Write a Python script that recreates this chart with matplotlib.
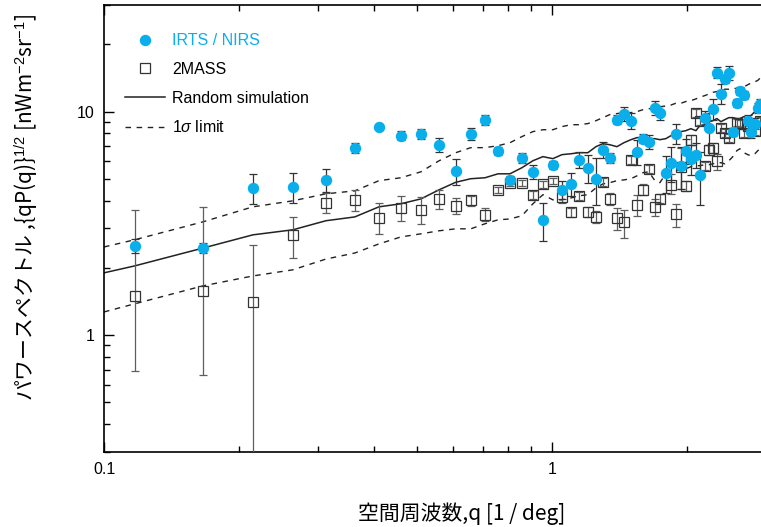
import matplotlib
matplotlib.use("Agg")
import matplotlib.pyplot as plt
from matplotlib.lines import Line2D
from matplotlib.ticker import LogLocator, NullFormatter, FixedLocator, FixedFormatter

plt.rcParams['font.family'] = ['Liberation Sans', 'Noto Sans CJK JP', 'DejaVu Sans']
plt.rcParams['mathtext.fontset'] = 'custom'
plt.rcParams['mathtext.rm'] = 'Liberation Sans'
plt.rcParams['mathtext.it'] = 'Liberation Sans:italic'

# spatial frequency bins [1/deg]
q_bins = [0.117, 0.166, 0.215, 0.264, 0.313, 0.363, 0.411, 0.460, 0.510, 0.560,
          0.610, 0.659, 0.709, 0.758, 0.806, 0.857, 0.907, 0.955, 1.005, 1.053,
          1.103, 1.149, 1.203, 1.254, 1.300, 1.347, 1.397, 1.448, 1.501, 1.548,
          1.597, 1.646, 1.698, 1.742, 1.796, 1.843, 1.891, 1.941, 1.991, 2.043,
          2.097, 2.140, 2.196, 2.241, 2.288, 2.335, 2.384, 2.433, 2.484, 2.535,
          2.588, 2.628, 2.683, 2.738, 2.781, 2.839, 2.883, 2.913]

# IRTS / NIRS
irts = [2.51, 2.45, 4.56, 4.61, 4.95, 6.90, 8.57, 7.80, 7.97, 7.11,
        5.44, 7.97, 9.21, 6.69, 4.95, 6.22, 5.38, 3.28, 5.79, 4.47,
        4.75, 6.09, 5.61, 5.01, 6.75, 6.22, 9.21, 9.80, 9.11, 6.62,
        7.57, 7.34, 10.4, 9.90, 5.33, 5.91, 7.97, 5.73, 6.69, 6.15,
        6.42, 5.22, 9.40, 8.48, 10.3, 14.96, 12.04, 14.06, 14.96, 8.14,
        10.97, 12.42, 11.92, 9.11, 8.14, 8.84, 10.4, 10.86]
irts_err = [0.18, 0.13, 0.71, 0.72, 0.59, 0.37, 0.10, 0.37, 0.42, 0.53,
            0.72, 0.51, 0.49, 0.28, 0.21, 0.33, 0.37, 0.64, 0.24, 0.40,
            0.57, 0.52, 0.81, 1.2, 0.57, 0.33, 0.40, 0.69, 0.78, 0.84,
            0.35, 0.51, 0.72, 0.69, 0.99, 1.06, 0.82, 1.24, 0.88, 0.95,
            0.85, 1.4, 0.71, 1.42, 1.12, 0.87, 1.24, 0.6, 1.12, 0.35,
            0.45, 0.5, 0.5, 0.5, 0.5, 0.5, 0.5, 0.5]

# 2MASS (value, lower bound, upper bound)
q_2mass = [0.117, 0.166, 0.215, 0.264, 0.313, 0.363, 0.411, 0.460, 0.510, 0.560,
           0.610, 0.659, 0.709, 0.758, 0.806, 0.857, 0.907, 0.955, 1.005, 1.053,
           1.103, 1.149, 1.203, 1.254, 1.300, 1.347, 1.397, 1.448, 1.501, 1.548,
           1.597, 1.646, 1.698, 1.742, 1.843, 1.891, 1.941, 1.991, 2.043, 2.097,
           2.140, 2.196, 2.241, 2.288, 2.335, 2.384, 2.433, 2.484, 2.588, 2.628,
           2.683, 2.738, 2.839, 2.913]
tmass = [1.50, 1.57, 1.41, 2.81, 3.91, 4.03, 3.35, 3.71, 3.64, 4.07,
         3.79, 4.03, 3.45, 4.47, 4.81, 4.81, 4.25, 4.75, 4.91, 4.16,
         3.56, 4.20, 3.56, 3.38, 4.86, 4.07, 3.35, 3.21, 6.09, 3.83,
         4.47, 5.55, 3.75, 4.07, 4.71, 3.49, 5.67, 4.66, 7.49, 9.90,
         9.11, 5.73, 6.75, 6.90, 6.03, 8.48, 8.05, 7.65, 8.93, 8.84,
         8.05, 8.66, 8.22, 9.11]
tmass_lo = [0.69, 0.66, 0.10, 2.21, 3.52, 3.60, 2.84, 3.25, 3.15, 3.67,
            3.49, 3.79, 3.25, 4.32, 4.66, 4.66, 4.07, 4.56, 4.75, 3.91,
            3.38, 4.03, 3.38, 3.18, 4.66, 3.83, 2.96, 2.72, 5.84, 3.42,
            4.25, 5.33, 3.42, 3.91, 4.29, 3.05, 4.52, 4.42, 7.11, 9.50,
            8.74, 5.50, 6.40, 6.55, 5.49, 8.14, 7.73, 7.34, 8.60, 8.50,
            7.73, 8.30, 7.90, 8.74]
tmass_hi = [3.64, 3.75, 2.53, 3.38, 4.33, 4.47, 3.91, 4.20, 4.16, 4.47,
            4.11, 4.20, 3.71, 4.62, 4.96, 4.96, 4.42, 4.91, 5.06, 4.42,
            3.71, 4.38, 3.75, 3.60, 5.06, 4.33, 3.71, 3.64, 6.35, 4.25,
            4.75, 5.79, 4.07, 4.29, 5.27, 3.87, 6.90, 4.91, 7.88, 10.3,
            9.50, 5.97, 7.10, 7.26, 6.48, 8.84, 8.39, 7.97, 9.30, 9.20,
            8.39, 9.00, 8.55, 9.50]

# random simulation mean and 1 sigma limits
q_sim = [0.100] + q_bins
sim = [1.90, 2.04, 2.45, 2.81, 2.96, 3.25, 3.38, 3.75, 3.87, 4.07,
       4.47, 4.83, 5.01, 5.06, 5.27, 5.27, 5.61, 6.03, 6.29, 6.16,
       6.42, 6.48, 6.55, 6.55, 6.97, 7.19, 7.11, 6.97, 7.26, 7.49,
       7.65, 7.65, 7.57, 7.57, 7.49, 7.57, 7.80, 8.05, 8.14, 8.22,
       8.39, 8.22, 8.66, 8.74, 9.02, 9.11, 9.31, 9.02, 9.21, 9.40,
       9.40, 9.31, 9.31, 9.50, 9.31, 9.60, 10.0, 10.2, 10.4]
sim_hi = [2.48, 2.67, 3.21, 3.75, 3.99, 4.29, 4.42, 4.91, 5.06, 5.38,
          6.03, 6.55, 6.90, 6.90, 7.04, 7.26, 7.73, 8.14, 8.30, 8.30,
          8.57, 8.74, 8.74, 8.84, 9.11, 9.40, 9.70, 9.80, 9.90, 9.90,
          10.0, 10.2, 10.3, 10.4, 10.5, 10.6, 10.7, 10.9, 10.9, 11.1,
          11.2, 11.4, 11.6, 11.8, 12.0, 12.2, 12.3, 12.4, 12.6, 12.6,
          12.7, 12.7, 12.8, 12.9, 13.2, 13.4, 13.6, 13.8, 14.1]
sim_lo = [1.27, 1.38, 1.66, 1.84, 1.96, 2.19, 2.33, 2.56, 2.75, 2.84,
          2.93, 2.99, 2.99, 3.15, 3.28, 3.31, 3.42, 3.87, 4.25, 4.03,
          4.03, 4.11, 4.20, 4.25, 4.56, 4.75, 4.81, 4.91, 4.95, 5.01,
          5.16, 5.33, 5.38, 4.91, 4.81, 5.27, 5.38, 5.44, 5.49, 5.55,
          5.67, 5.73, 5.73, 5.79, 5.79, 5.84, 5.91, 5.91, 5.84, 6.03,
          6.29, 6.69, 6.82, 6.55, 6.42, 6.35, 6.48, 6.69, 6.82]

blue = '#0AAEEA'

fig = plt.figure(figsize=(7.61, 5.27), dpi=100)
ax = fig.add_axes([104 / 761, 1 - 452 / 527, 1 - 104 / 761, 447 / 527])

ax.plot(q_sim, sim, color='#222222', lw=1.1, zorder=2)
ax.plot(q_sim, sim_hi, color='#222222', lw=1.0, ls=(0, (4, 4)), zorder=2)
ax.plot(q_sim, sim_lo, color='#222222', lw=1.0, ls=(0, (4, 4)), zorder=2)

yerr_2mass = [[v - lo for v, lo in zip(tmass, tmass_lo)],
              [hi - v for v, hi in zip(tmass, tmass_hi)]]
ax.errorbar(q_2mass, tmass, yerr=yerr_2mass, fmt='s', ms=6.5, mfc='none',
            mec='#333333', mew=0.9, ecolor='#5e5e5e', elinewidth=0.9,
            capsize=3, capthick=0.9, zorder=3)
ax.errorbar(q_bins, irts, yerr=irts_err, fmt='o', ms=7.2, mfc=blue, mec=blue,
            ecolor='#333333', elinewidth=0.9, capsize=3, capthick=0.9, zorder=4)

ax.set_xscale('log')
ax.set_yscale('log')
ax.set_xlim(0.1, 2.93)
ax.set_ylim(0.3, 30)

ax.spines['right'].set_visible(False)
for s in ['left', 'top', 'bottom']:
    ax.spines[s].set_linewidth(1.2)

ax.xaxis.set_major_locator(FixedLocator([0.1, 1]))
ax.xaxis.set_major_formatter(FixedFormatter(['0.1', '1']))
ax.xaxis.set_minor_locator(LogLocator(base=10, subs=range(2, 10)))
ax.xaxis.set_minor_formatter(NullFormatter())
ax.yaxis.set_major_locator(FixedLocator([1, 10]))
ax.yaxis.set_major_formatter(FixedFormatter(['1', '10']))
ax.yaxis.set_minor_locator(LogLocator(base=10, subs=range(2, 10)))
ax.yaxis.set_minor_formatter(NullFormatter())
ax.tick_params(which='both', direction='in', top=True, right=False,
               labelsize=11.5, width=1)
ax.tick_params(which='major', length=7, pad=7)
ax.tick_params(which='minor', length=4)

handles = [
    Line2D([], [], ls='none', marker='o', ms=7.2, mfc=blue, mec=blue),
    Line2D([], [], ls='none', marker='s', ms=6.5, mfc='none', mec='#333333', mew=0.9),
    Line2D([], [], color='#222222', lw=1.1),
    Line2D([], [], color='#222222', lw=1.0, ls=(0, (4, 4))),
]
labels = ['IRTS / NIRS', '2MASS', 'Random simulation', '1$\\sigma$ limit']
leg = ax.legend(handles, labels, loc='upper left', bbox_to_anchor=(0.032, 0.937),
                frameon=False, fontsize=11.5, handlelength=2.5, handletextpad=0.45,
                labelspacing=0.86, borderpad=0, borderaxespad=0)
leg.get_texts()[0].set_color(blue)

fig.text(27 / 761, 1 - 208 / 527,
         'パワースペクトル ,{qP(q)}$^{1/2}$ [nWm$^{-2}$sr$^{-1}$]',
         rotation=90, ha='center', va='center', fontsize=15,
         family='Noto Sans CJK JP')
fig.text(462 / 761, 1 - 514 / 527, '空間周波数,q [1 / deg]',
         ha='center', va='center', fontsize=15, family='Noto Sans CJK JP')

fig.savefig('out.png', dpi=100)
